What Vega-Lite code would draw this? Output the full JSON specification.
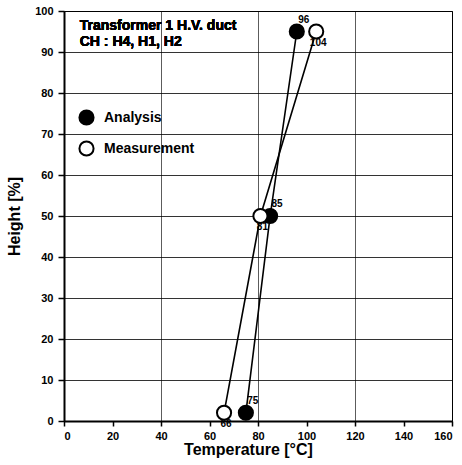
{
  "$schema": "https://vega.github.io/schema/vega-lite/v6.json",
  "autosize": {"type": "none"},
  "width": 388,
  "height": 410,
  "padding": {"left": 64, "top": 11, "right": 10, "bottom": 44},
  "background": "white",
  "config": {
    "font": "Liberation Sans",
    "view": {"stroke": "black", "strokeWidth": 1},
    "axis": {
      "labelFont": "Liberation Sans",
      "labelFontWeight": "bold",
      "labelFontSize": 11,
      "labelColor": "black",
      "titleFont": "Liberation Sans",
      "titleFontWeight": "bold",
      "titleColor": "black",
      "domainColor": "black",
      "domainWidth": 2,
      "tickColor": "black",
      "tickWidth": 1.5,
      "gridColor": "black",
      "gridWidth": 1,
      "gridOpacity": 0.8
    }
  },
  "data": {
    "values": [
      {"series": "Analysis", "temperature": 75, "height": 2},
      {"series": "Analysis", "temperature": 85, "height": 50},
      {"series": "Analysis", "temperature": 96, "height": 95},
      {"series": "Measurement", "temperature": 66, "height": 2},
      {"series": "Measurement", "temperature": 81, "height": 50},
      {"series": "Measurement", "temperature": 104, "height": 95}
    ]
  },
  "encoding": {
    "x": {
      "field": "temperature",
      "type": "quantitative",
      "scale": {"domain": [0, 160], "nice": false, "zero": false},
      "axis": {
        "values": [0, 20, 40, 60, 80, 100, 120, 140, 160],
        "title": "Temperature [°C]",
        "titleFontSize": 16,
        "titlePadding": 0,
        "titleX": 184,
        "tickSize": 5,
        "labelPadding": 4,
        "gridOpacity": {"condition": {"test": "datum.value % 40 === 0", "value": 0.8}, "value": 0}
      }
    },
    "y": {
      "field": "height",
      "type": "quantitative",
      "scale": {"domain": [0, 100], "nice": false},
      "axis": {
        "values": [0, 10, 20, 30, 40, 50, 60, 70, 80, 90, 100],
        "title": "Height [%]",
        "titleFontSize": 16,
        "titlePadding": 12,
        "tickSize": 6,
        "labelPadding": 5
      }
    }
  },
  "layer": [
    {
      "mark": {"type": "line", "color": "black", "strokeWidth": 1.6},
      "encoding": {
        "detail": {"field": "series"},
        "order": {"field": "height", "type": "quantitative"}
      }
    },
    {
      "mark": {"type": "point", "shape": "circle", "size": 200, "strokeWidth": 2, "opacity": 1},
      "encoding": {
        "fill": {
          "field": "series",
          "type": "nominal",
          "scale": {"domain": ["Analysis", "Measurement"], "range": ["black", "white"]},
          "legend": {
            "title": null,
            "orient": "none",
            "legendX": 14,
            "legendY": 98,
            "symbolSize": 200,
            "symbolStrokeColor": "black",
            "symbolStrokeWidth": 2,
            "symbolType": "circle",
            "labelFontSize": 14,
            "labelFontWeight": "bold",
            "labelColor": "black",
            "labelFont": "Liberation Sans",
            "rowPadding": 8,
            "labelOffset": 9
          }
        },
        "stroke": {"value": "black"}
      }
    },
    {
      "transform": [{"filter": "datum.series === 'Analysis'"}],
      "mark": {"type": "text", "fontSize": 10, "fontWeight": "bold", "dx": 7, "dy": -12, "color": "black"},
      "encoding": {"text": {"field": "temperature", "type": "quantitative"}}
    },
    {
      "transform": [{"filter": "datum.series === 'Measurement'"}],
      "mark": {"type": "text", "fontSize": 10, "fontWeight": "bold", "dx": 2, "dy": 11, "color": "black"},
      "encoding": {"text": {"field": "temperature", "type": "quantitative"}}
    },
    {
      "mark": {"type": "text", "align": "left", "baseline": "top", "fontSize": 14, "fontWeight": "bold", "color": "black", "lineHeight": 16, "text": ["Transformer 1  H.V. duct", "CH : H4, H1, H2"]},
      "encoding": {"x": {"datum": 6.5}, "y": {"datum": 98}}
    }
  ]
}
